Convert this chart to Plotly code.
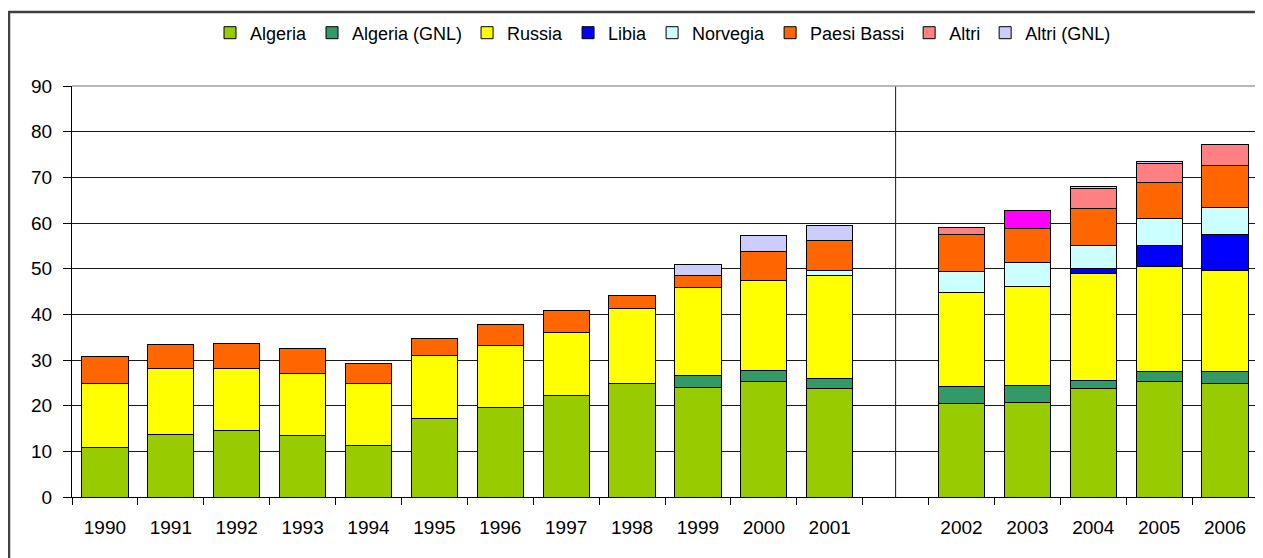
import plotly.graph_objects as go

years = [1990, 1991, 1992, 1993, 1994, 1995, 1996, 1997, 1998, 1999, 2000, 2001,
         2002, 2003, 2004, 2005, 2006]
gap_after = 2001

algeria = [10.8, 13.7, 14.6, 13.4, 11.2, 17.1, 19.6, 22.3, 24.9, 24.0, 25.2, 23.7,
           20.4, 20.7, 23.7, 25.2, 24.8]
algeria_gnl = [None, None, None, None, None, None, None, None, None, 2.6, 2.5, 2.2,
               3.8, 3.7, 1.9, 2.2, 2.6]
russia = [14.0, 14.4, 13.5, 13.6, 13.6, 13.9, 13.6, 13.8, 16.4, 19.2, 19.8, 22.7,
          20.5, 21.8, 23.4, 23.0, 22.3]
libia = [None, None, None, None, None, None, None, None, None, None, None, None,
         None, None, 1.0, 4.6, 7.8]
norvegia = [None, None, None, None, None, None, None, None, None, None, None, 1.1,
            4.6, 5.1, 5.0, 5.9, 5.9]
paesi_bassi = [5.9, 5.2, 5.6, 5.6, 4.5, 3.8, 4.5, 4.8, 2.9, 2.8, 6.3, 6.4,
               8.2, 7.4, 8.1, 8.0, 9.3]
altri = [None, None, None, None, None, None, None, None, None, None, None, None,
         1.5, 4.0, 4.5, 4.1, 4.6]
altri_gnl = [None, None, None, None, None, None, None, None, None, 2.4, 3.4, 3.3,
             None, None, 0.3, 0.4, None]

series = [
    ("Algeria", algeria, "#99CC00"),
    ("Algeria (GNL)", algeria_gnl, "#339966"),
    ("Russia", russia, "#FFFF00"),
    ("Libia", libia, "#0000FF"),
    ("Norvegia", norvegia, "#CCFFFF"),
    ("Paesi Bassi", paesi_bassi, "#FF6600"),
    ("Altri", altri, "#FF8080"),
    ("Altri (GNL)", altri_gnl, "#CCCCFF"),
]
# per-point colour override seen in the picture (Altri, 2003)
altri_special = {2003: "#FF00FF"}

gi = years.index(gap_after) + 1
cats = [str(y) for y in years[:gi]] + [" "] + [str(y) for y in years[gi:]]

FONT = "Liberation Sans, Arial, sans-serif"
fig = go.Figure()
for name, vals, col in series:
    yv = list(vals[:gi]) + [None] + list(vals[gi:])
    if name == "Altri":
        cols = [altri_special.get(int(c), col) if c.strip() else col for c in cats]
    else:
        cols = col
    fig.add_trace(go.Bar(
        x=cats, y=yv, name=name,
        marker=dict(color=cols, line=dict(color="#000000", width=1)),
    ))

# the page body has an 8px margin; work in screen pixels and convert
OFF = 8
W, H = 1263 - OFF, 558 - OFF
plot_left, plot_right, plot_top, plot_bottom = 72, 1258, 86, 497
L = plot_left - OFF
T = plot_top - OFF
R = W - (plot_right - OFF)
B = H - (plot_bottom - OFF)
pw = plot_right - plot_left
ph = plot_bottom - plot_top

def px_x(p):
    return (p - plot_left) / pw

def px_y(p):
    return (plot_bottom - p) / ph

fig.update_layout(
    width=W, height=H,
    margin=dict(l=L, r=R, t=T, b=B, pad=0),
    barmode="stack",
    bargap=0.30,
    plot_bgcolor="white",
    paper_bgcolor="white",
    font=dict(family=FONT, size=19, color="#000000"),
    legend=dict(
        orientation="h", x=px_x(663), xanchor="center", y=px_y(33), yanchor="middle",
        font=dict(family=FONT, size=18, color="#000000"),
        itemwidth=30, traceorder="normal", bgcolor="rgba(0,0,0,0)",
        itemclick=False,
    ),
    xaxis=dict(
        type="category", categoryorder="array", categoryarray=cats,
        tickson="boundaries", ticks="outside", ticklen=7, tickcolor="#000000",
        showline=True, linecolor="#000000", linewidth=1,
        showgrid=False, ticklabelstandoff=13,
        tickfont=dict(family=FONT, size=19, color="#000000"),
    ),
    yaxis=dict(
        range=[0, 90], dtick=10, tick0=0,
        ticks="outside", ticklen=8, tickcolor="#000000",
        showline=True, linecolor="#000000", linewidth=1,
        showgrid=True, gridcolor="#1a1a1a", gridwidth=1,
        zeroline=False, ticklabelstandoff=7,
        tickfont=dict(family=FONT, size=19, color="#000000"),
    ),
    shapes=[
        # separator between the two periods
        dict(type="line", xref="x", yref="paper", x0=gi, x1=gi, y0=0, y1=1,
             line=dict(color="#1a1a1a", width=1), layer="below"),
        # gray plot frame (top and right)
        dict(type="line", xref="paper", yref="paper", x0=0, x1=1, y0=1, y1=1,
             line=dict(color="#A0A0A0", width=1.5), layer="above"),
        dict(type="line", xref="paper", yref="paper", x0=1, x1=1, y0=0, y1=1,
             line=dict(color="#A0A0A0", width=1.5), layer="above"),
        # outer chart border
        dict(type="rect", xref="paper", yref="paper",
             x0=px_x(9), x1=px_x(1290), y0=px_y(600), y1=px_y(12),
             line=dict(color="#404040", width=2.5), fillcolor="rgba(0,0,0,0)",
             layer="below"),
    ],
)

fig.write_html("out.html")
